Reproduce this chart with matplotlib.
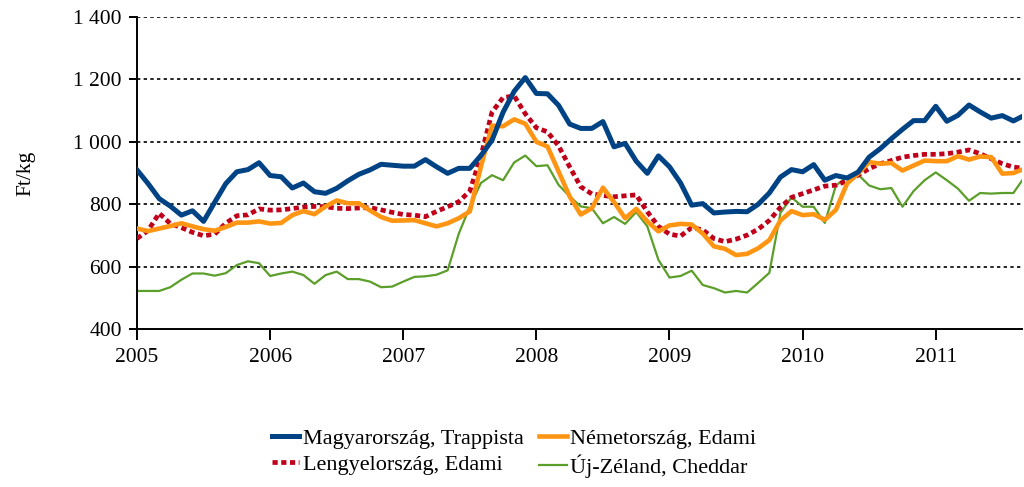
import matplotlib
matplotlib.use("Agg")
import matplotlib.pyplot as plt
import numpy as np

plt.rcParams['font.family'] = ['Liberation Serif', 'DejaVu Serif']

# monthly prices, 2005-01 .. 2011-09 (Ft/kg)
hu_trappista = [910, 866, 818, 794, 765, 779, 745, 806, 866, 904, 911, 933,
                892, 888, 852, 868, 840, 835, 851, 875, 896, 910, 928, 925,
                922, 922, 943, 920, 899, 915, 915, 956, 1005, 1095, 1162, 1206,
                1155, 1154, 1117, 1057, 1043, 1043, 1065, 984, 995, 938, 899, 955,
                920, 868, 797, 802, 772, 775, 777, 776, 800, 836, 887, 911,
                904, 927, 877, 892, 884, 903, 951, 978, 1010, 1040, 1068, 1068,
                1114, 1066, 1085, 1118, 1096, 1076, 1084, 1067, 1085]
de_edami = [722, 714, 722, 730, 739, 729, 720, 715, 727, 741, 741, 745,
            738, 740, 765, 778, 768, 793, 812, 803, 803, 780, 759, 747,
            748, 749, 739, 729, 739, 755, 777, 920, 1052, 1050, 1072, 1058,
            1000, 985, 905, 825, 767, 787, 853, 807, 755, 785, 745, 713,
            732, 737, 735, 706, 665, 657, 637, 641, 659, 685, 748, 778,
            765, 768, 750, 782, 866, 898, 935, 930, 932, 908, 924, 940,
            938, 938, 954, 943, 953, 951, 898, 900, 914]
pl_edami = [690, 716, 771, 738, 725, 710, 699, 704, 739, 763, 766, 785,
            781, 782, 786, 791, 793, 792, 787, 786, 788, 789, 782, 774,
            767, 765, 760, 777, 792, 808, 842, 954, 1095, 1142, 1147, 1090,
            1045, 1032, 987, 920, 856, 833, 828, 824, 827, 830, 776, 729,
            704, 698, 725, 718, 690, 680, 688, 701, 720, 748, 790, 822,
            834, 846, 858, 861, 875, 893, 914, 930, 940, 951, 956, 960,
            960, 962, 967, 974, 962, 946, 930, 919, 915]
nz_cheddar = [522, 522, 522, 534, 558, 578, 578, 571, 579, 605, 617, 611,
              570, 578, 584, 573, 545, 573, 584, 560, 560, 552, 534, 536,
              552, 567, 569, 574, 588, 705, 792, 868, 893, 877, 934, 956,
              922, 925, 862, 825, 793, 787, 739, 759, 737, 775, 729, 622,
              565, 570, 587, 541, 531, 517, 522, 517, 548, 580, 772, 822,
              792, 792, 740, 860, 887, 895, 860, 848, 852, 792, 842, 877,
              902, 877, 850, 811, 836, 834, 836, 836, 887]
years = [2005, 2006, 2007, 2008, 2009, 2010, 2011]
yticks = [400, 600, 800, 1000, 1200, 1400]

months = np.arange(len(hu_trappista))

fig = plt.figure(figsize=(10.24, 4.87), dpi=100)
ax = fig.add_axes([0.1338, 0.3244, 0.8645, 0.6406])

grid_kw = dict(color='black', lw=1.2, linestyle=(0, (2.0, 2.0)), zorder=1)
for v in yticks[1:]:
    ax.axhline(v, **grid_kw)

ax.plot(months, nz_cheddar, color='#5c9e2a', lw=1.6, zorder=2,
        label='Új-Zéland, Cheddar')
ax.plot(months, pl_edami, color='#c0001a', lw=3.4, linestyle=(0, (1.1, 0.75)),
        zorder=3, label='Lengyelország, Edami')
ax.plot(months, de_edami, color='#ff9512', lw=3.3, zorder=4,
        label='Németország, Edami')
ax.plot(months, hu_trappista, color='#004385', lw=3.6, zorder=5,
        label='Magyarország, Trappista')

ax.set_xlim(0, 79.8)
ax.set_ylim(400, 1400)
ax.set_xticks([(y - 2005) * 12 for y in years])
ax.set_xticklabels([str(y) for y in years])
ax.set_yticks(yticks)
ax.set_yticklabels([f"{v:,}".replace(",", " ") for v in yticks])

for s in ['top', 'right']:
    ax.spines[s].set_visible(False)
for s in ['left', 'bottom']:
    ax.spines[s].set_linewidth(1.4)
ax.tick_params(axis='y', direction='out', length=6, width=1.4, labelsize=15.5, pad=5)
ax.tick_params(axis='x', direction='out', length=8, width=1.4, labelsize=15.5, pad=6)
ax.set_ylabel('Ft/kg', fontsize=15.5, labelpad=27)

h, l = ax.get_legend_handles_labels()
order = [3, 1, 2, 0]
fig.legend([h[i] for i in order], [l[i] for i in order], loc='center',
           bbox_to_anchor=(0.502, 0.070), ncol=2, frameon=False, fontsize=16,
           handlelength=1.25, handletextpad=0.15, columnspacing=0.7,
           labelspacing=0.25)

fig.savefig('out.png', dpi=100)
